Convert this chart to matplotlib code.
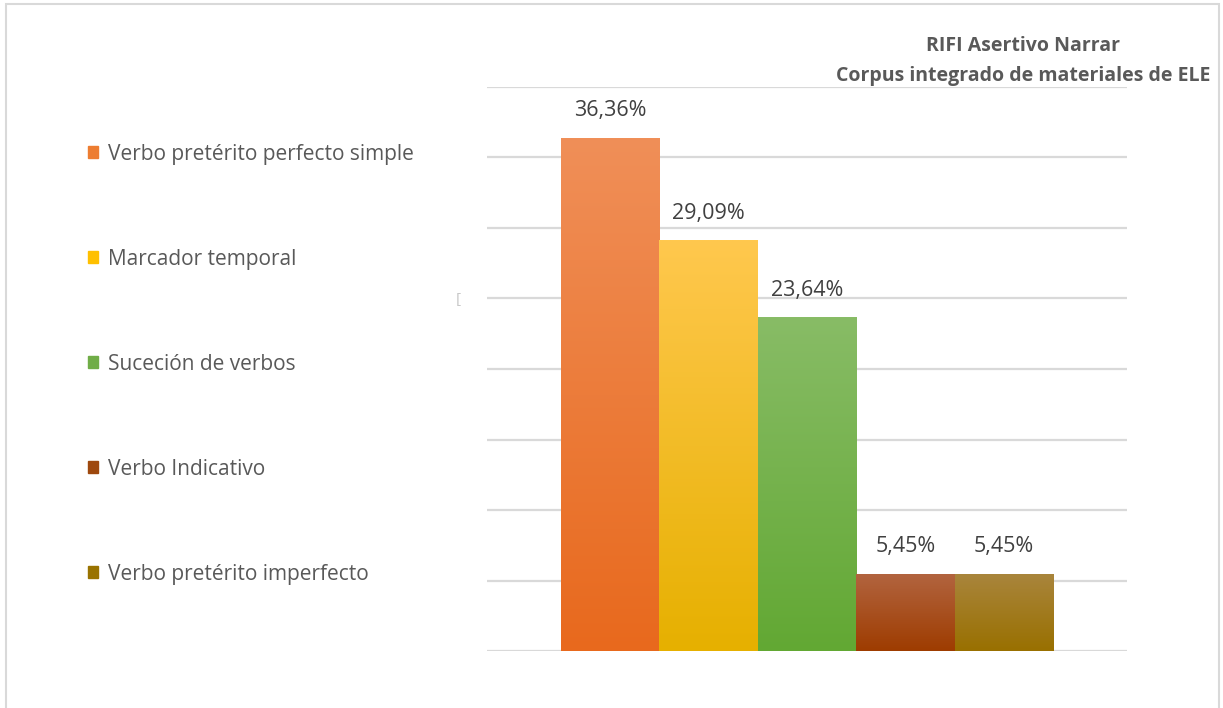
import numpy as np
import matplotlib.pyplot as plt
from matplotlib.patches import Rectangle
from matplotlib.colors import LinearSegmentedColormap

plt.rcParams['font.family'] = ['Open Sans', 'DejaVu Sans']

categories = ['Verbo pretérito perfecto simple', 'Marcador temporal',
              'Suceción de verbos', 'Verbo Indicativo', 'Verbo pretérito imperfecto']
values = [36.36, 29.09, 23.64, 5.45, 5.45]
labels = ['36,36%', '29,09%', '23,64%', '5,45%', '5,45%']

# top / bottom colours of each bar gradient
top_colors = ['#F08F58', '#FFC84E', '#88BC66', '#B2643F', '#A9853C']
bottom_colors = ['#E8691D', '#E6B000', '#62A833', '#9E3C00', '#997000']
legend_colors = ['#ED7D31', '#FFC000', '#70AD47', '#9E480E', '#997300']

fig = plt.figure(figsize=(12.23, 7.08), dpi=100)
ax = fig.add_axes([487/1223, 1 - 651/708, 640/1223, (651-87)/708])

x = np.arange(len(values))

grad = np.linspace(0, 1, 256).reshape(-1, 1)
for xi, v, ct, cb in zip(x, values, top_colors, bottom_colors):
    cmap = LinearSegmentedColormap.from_list('g', [cb, ct])
    ax.imshow(grad, cmap=cmap, aspect='auto', origin='lower',
              extent=[xi - 0.5, xi + 0.5, 0, v], zorder=3)
    ax.text(xi, v + 1.2, labels[xi], ha='center', va='bottom',
            fontsize=15.5, color='#404040', zorder=4)

ax.set_xlim(-1.25, 5.25)
ax.set_ylim(0, 40)
for gy in range(0, 41, 5):
    ax.axhline(gy, color='#D9D9D9', lw=1.6, zorder=1)
for s in ax.spines.values():
    s.set_visible(False)
ax.set_xticks([])
ax.set_yticks([])

# legend on the left
handles = [Rectangle((0, 0), 1, 1, color=c) for c in legend_colors]
fig.legend(handles, categories, loc='upper left', bbox_to_anchor=(69/1223, 1 - 125/708),
           frameon=False, fontsize=15, labelcolor='#595959',
           handlelength=0.5, handleheight=0.5, handletextpad=0.45,
           labelspacing=4.03)

fig.text(1210/1223, 1 - 61/708, 'RIFI Asertivo Narrar\nCorpus integrado de materiales de ELE',
         ha='right', va='center', multialignment='center', fontsize=14,
         fontweight='bold', color='#595959', linespacing=1.7)

fig.text(458/1223, 1 - 300/708, '[', ha='center', va='center', fontsize=11, color='#C8C8C8')

fig.patches.append(Rectangle((6/1223, -0.05), (1219-6)/1223, 1.05 - 4/708,
                             transform=fig.transFigure, fill=False,
                             edgecolor='#D9D9D9', lw=1.5))

fig.savefig('out.png', dpi=100)
